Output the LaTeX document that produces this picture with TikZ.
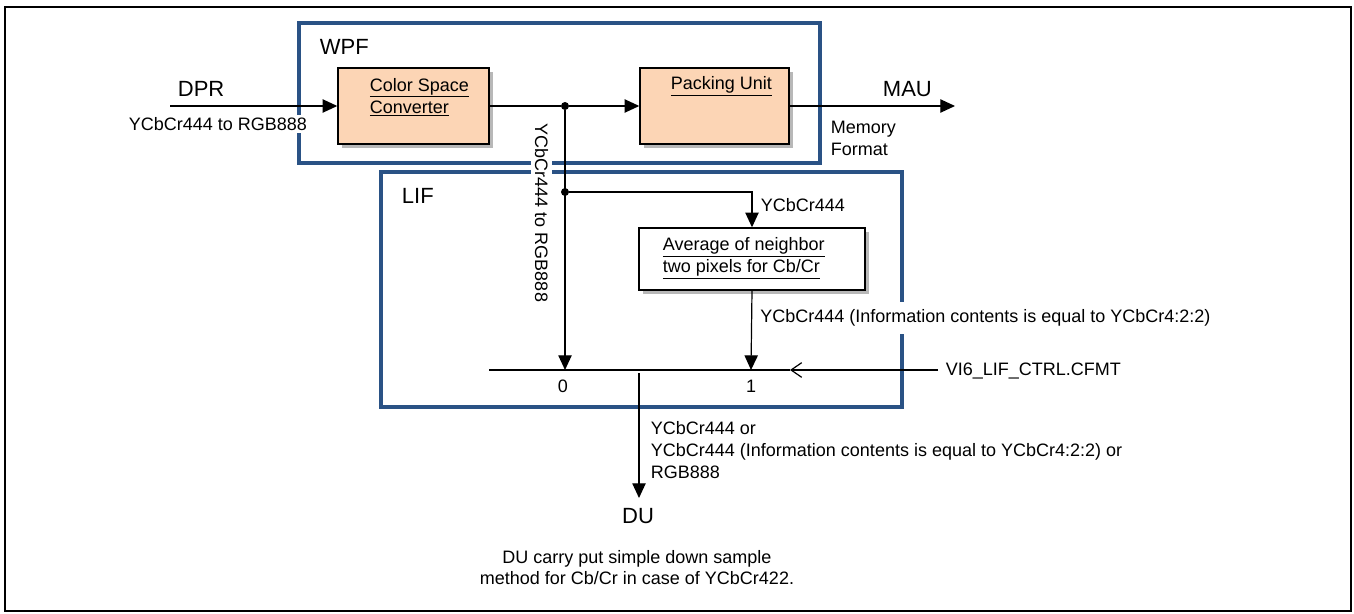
\documentclass[tikz,border=0pt]{standalone}
\usepackage{fontspec}
\setmainfont{Liberation Sans}
\usetikzlibrary{arrows.meta,shadows}
\definecolor{frameblue}{HTML}{2A5285}
\definecolor{peach}{HTML}{FCD5B5}
\begin{document}
\begin{tikzpicture}[x=0.75pt,y=-0.75pt,
  small/.style={font=\fontsize{13.5}{16.5}\selectfont},
  big/.style={font=\fontsize{16.5}{20}\selectfont},
  blk/.style={draw=frameblue,line width=3pt},
  unit/.style={draw=black,line width=1.1pt,fill=peach,inner sep=0pt,
    drop shadow={shadow xshift=3pt,shadow yshift=-3pt,fill=black!28,opacity=1}},
  wire/.style={line width=0.9pt},
  arr/.style={wire,-{Triangle[length=11pt,width=10pt]}},
  dot/.style={circle,fill=black,inner sep=0pt,minimum size=6pt},
]
\useasboundingbox (0,0) rectangle (1354,614);
\draw[line width=1.8pt] (5,7) rectangle (1351,611);
% blue frames
\draw[blk] (298.6,22.7) rectangle (820,163.3);
\draw[blk] (381,171.5) rectangle (902,407);
% units
\node[unit,minimum width=113.25pt,minimum height=57pt] (csc) at (413.5,106) {};
\node[unit,minimum width=111.75pt,minimum height=57pt] (pack) at (714.5,106) {};
\node[unit,fill=white,minimum width=169.5pt,minimum height=46.5pt] (avg) at (752,259) {};
\node[small,anchor=west,align=left,inner sep=2pt] (csct) at (367,97) {\underline{Color Space}\\\underline{Converter}};
\node[small,anchor=west,inner sep=2pt] (packt) at (668,86) {\underline{Packing Unit}};
\node[small,anchor=west,align=left,inner sep=2pt] (avgt) at (660,258) {\underline{Average of neighbor}\\\underline{two pixels for Cb/Cr}};
% points
\coordinate (dprin) at (170,106);
\node[dot] (j1) at (565,106) {};
\node[dot] (j2) at (565,192) {};
\coordinate (mux0) at (565,370);
\coordinate (mux1) at (751,370);
\coordinate (muxl) at (489,370);
\coordinate (muxr) at (790,370);
\coordinate (ctrl) at (938,370);
\coordinate (mauend) at (955,106);
\coordinate (dutop) at (639,373);
\coordinate (dutip) at (639,498);
% wires
\draw[arr] (dprin) -- (csc.west);
\draw[wire] (csc.east) -- (j1);
\draw[arr] (j1) -- (pack.west);
\draw[arr] (pack.east) -- (mauend);
\draw[arr] (j1) -- (mux0);
\draw[arr] (j2) -| (avg.north);
\draw[arr] (avg.south) -- (mux1);
\draw[wire] (muxl) -- (muxr);
\draw[wire,-{Straight Barb[length=8pt,width=11pt]}] (ctrl) -- (muxr);
\draw[arr] (dutop) -- (dutip);
% labels
\node[big,anchor=west,inner sep=2pt] (wpf) at (317,47) {WPF};
\node[big,anchor=west,inner sep=2pt] (dpr) at (175,89) {DPR};
\node[small,anchor=west,fill=white,inner sep=2pt] (dprfmt) at (126,124) {YCbCr444 to RGB888};
\node[big,anchor=west,inner sep=2pt] (mau) at (880,89) {MAU};
\node[small,anchor=west,align=left,inner sep=2pt] (memfmt) at (828,138.5) {Memory\\Format};
\node[big,anchor=west,inner sep=2pt] (lif) at (399,196) {LIF};
\node[small,rotate=-90,fill=white,inner sep=3pt] (rgbv) at (541.6,213) {YCbCr444 to RGB888};
\node[small,anchor=west,inner sep=2pt] (y444) at (758,205) {YCbCr444};
\node[small,anchor=west,fill=white,inner xsep=3pt,inner ysep=6pt] (y422) at (756,318) {YCbCr444 (Information contents is equal to YCbCr4:2:2)};
\node[small,anchor=west,inner sep=2pt] (cfmt) at (943,371) {VI6\_LIF\_CTRL.CFMT};
\node[small] (sel0) at (563,386) {0};
\node[small] (sel1) at (751,386) {1};
\node[small,anchor=west,align=left,inner sep=2pt] (outfmt) at (648,450.5) {YCbCr444 or\\YCbCr444 (Information contents is equal to YCbCr4:2:2) or\\RGB888};
\node[big] (du) at (638,516) {DU};
\node[small,align=center,font=\fontsize{13.5}{16}\selectfont] (note) at (637,567.5) {DU carry put simple down sample\\method for Cb/Cr in case of YCbCr422.};
\end{tikzpicture}
\end{document}
